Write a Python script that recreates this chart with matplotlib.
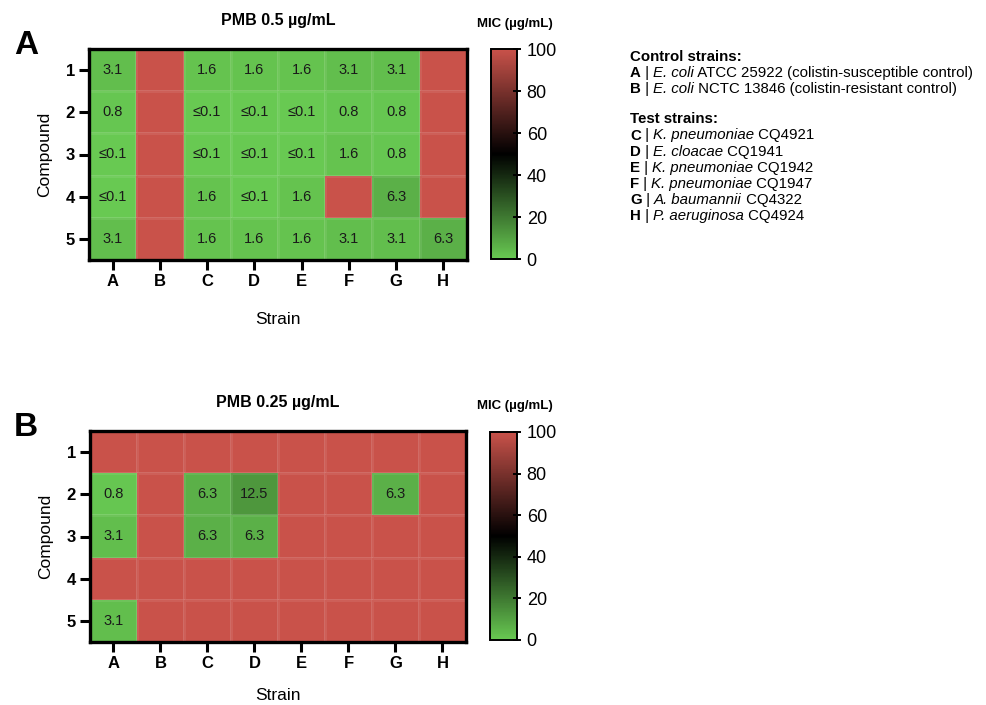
import numpy as np
import matplotlib
matplotlib.use('Agg')
import matplotlib.pyplot as plt
from matplotlib.colors import LinearSegmentedColormap

plt.rcParams.update({
    'font.family': ['Liberation Sans', 'DejaVu Sans'],
})

strains = ['A', 'B', 'C', 'D', 'E', 'F', 'G', 'H']
compounds = ['1', '2', '3', '4', '5']

# MIC in ug/mL, 100 = no activity (red, no label), 0.1 = "<=0.1"
mic_05 = np.array([
    [3.1, 100, 1.6, 1.6, 1.6, 3.1, 3.1, 100],
    [0.8, 100, 0.1, 0.1, 0.1, 0.8, 0.8, 100],
    [0.1, 100, 0.1, 0.1, 0.1, 1.6, 0.8, 100],
    [0.1, 100, 1.6, 0.1, 1.6, 100, 6.3, 100],
    [3.1, 100, 1.6, 1.6, 1.6, 3.1, 3.1, 6.3],
])
mic_025 = np.array([
    [100, 100, 100, 100, 100, 100, 100, 100],
    [0.8, 100, 6.3, 12.5, 100, 100, 6.3, 100],
    [3.1, 100, 6.3, 6.3, 100, 100, 100, 100],
    [100, 100, 100, 100, 100, 100, 100, 100],
    [3.1, 100, 100, 100, 100, 100, 100, 100],
])

titles = ['PMB 0.5 µg/mL', 'PMB 0.25 µg/mL']
panel_letters = ['A', 'B']

# strain key: (letter, species in italics, rest)
control_key = [
    ('A', 'E. coli', ' ATCC 25922 (colistin-susceptible control)'),
    ('B', 'E. coli', ' NCTC 13846 (colistin-resistant control)'),
]
test_key = [
    ('C', 'K. pneumoniae', ' CQ4921'),
    ('D', 'E. cloacae', ' CQ1941'),
    ('E', 'K. pneumoniae', ' CQ1942'),
    ('F', 'K. pneumoniae', ' CQ1947'),
    ('G', 'A. baumannii', ' CQ4322'),
    ('H', 'P. aeruginosa', ' CQ4924'),
]

cmap = LinearSegmentedColormap.from_list('mic', ['#68c952', '#000000', '#c9524a'])

W, H = 987, 705
fig = plt.figure(figsize=(W / 100, H / 100), dpi=100)
renderer = fig.canvas.get_renderer()

# pixel boxes: (left, top, right, bottom)
heat_boxes = [(89, 49, 467, 260), (90, 431, 466, 642)]
cbar_boxes = [(491, 49, 517, 259), (490, 432, 517, 640)]
strain_y = [319, 696]
title_y = [20, 402]
cbar_title_y = [24, 406]


def px_axes(box):
    l, t, r, b = box
    return fig.add_axes([l / W, 1 - b / H, (r - l) / W, (b - t) / H])


for k, data in enumerate([mic_05, mic_025]):
    ax = px_axes(heat_boxes[k])
    mesh = ax.pcolormesh(np.arange(len(strains) + 1) - 0.5, np.arange(len(compounds) + 1) - 0.5,
                         data, cmap=cmap, vmin=0, vmax=100,
                         edgecolor=(1, 1, 1, 0.08), linewidth=0.8)
    ax.set_xlim(-0.5, len(strains) - 0.5)
    ax.set_ylim(len(compounds) - 0.5, -0.5)
    for i in range(data.shape[0]):
        for j in range(data.shape[1]):
            v = data[i, j]
            if v >= 100:
                continue
            lab = '≤0.1' if v <= 0.1 else f'{v:g}'
            ax.text(j, i, lab, ha='center', va='center', fontsize=10.5, color='#1a1a1a')

    ax.set_xticks(np.arange(len(strains)))
    ax.set_xticklabels(strains, fontweight='bold', fontsize=12)
    ax.set_yticks(np.arange(len(compounds)))
    ax.set_yticklabels(compounds, fontweight='bold', fontsize=12)
    ax.tick_params(length=7, width=2.2, pad=3)
    for s in ax.spines.values():
        s.set_linewidth(2.4)
    ax.set_ylabel('Compound', fontsize=12.5, labelpad=10)

    l, t, r, b = heat_boxes[k]
    fig.text((l + r) / 2 / W, 1 - strain_y[k] / H, 'Strain', fontsize=12.5,
             ha='center', va='center')
    fig.text((l + r) / 2 / W, 1 - title_y[k] / H, titles[k], fontsize=11.5,
             fontweight='bold', ha='center', va='center')
    fig.text(26 / W, 1 - (t - 3) / H, panel_letters[k], fontsize=24, fontweight='bold',
             ha='center', va='center')

    cax = px_axes(cbar_boxes[k])
    cb = fig.colorbar(mesh, cax=cax, ticks=[0, 20, 40, 60, 80, 100])
    cb.outline.set_linewidth(1.4)
    cax.tick_params(direction='inout', length=6, width=1.4, labelsize=13, pad=4)
    fig.text(515 / W, 1 - cbar_title_y[k] / H, 'MIC (µg/mL)', fontsize=9.5,
             fontweight='bold', ha='center', va='center')


def key_line(x, y, letter, species, rest, size=10.8):
    # draw bold letter, plain bar, italic species, plain rest side by side
    pieces = [(letter, 'bold', 'normal'), (' | ', 'normal', 'normal'),
              (species, 'normal', 'italic'), (rest, 'normal', 'normal')]
    for txt, weight, style in pieces:
        t = fig.text(x / W, 1 - y / H, txt, fontsize=size, fontweight=weight,
                     fontstyle=style, ha='left', va='center')
        bb = t.get_window_extent(renderer=renderer)
        x += bb.width


fig.text(630 / W, 1 - 57 / H, 'Control strains:', fontsize=10.8, fontweight='bold',
         ha='left', va='center')
for n, (letter, species, rest) in enumerate(control_key):
    key_line(630, 73 + 16.3 * n, letter, species, rest)
fig.text(630 / W, 1 - 119 / H, 'Test strains:', fontsize=10.8, fontweight='bold',
         ha='left', va='center')
for n, (letter, species, rest) in enumerate(test_key):
    key_line(630, 135.5 + 16.2 * n, letter, species, rest)

fig.savefig('out.png', dpi=100, facecolor='white')
